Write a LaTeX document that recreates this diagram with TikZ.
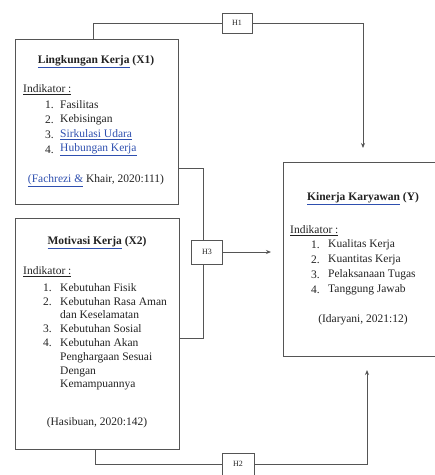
\documentclass[tikz,border=0pt]{standalone}
\usepackage{fontspec}
\setmainfont{Liberation Serif}
\usetikzlibrary{arrows.meta}
\definecolor{ln}{HTML}{555555}
\definecolor{lk}{HTML}{2E4FAF}
\definecolor{tx}{HTML}{222222}
\newcommand\tul[1]{\textcolor{lk}{\underline{\textcolor{tx}{#1}}}}
\newcommand\bul[1]{\textcolor{lk}{\underline{#1}}}
\newcommand\kul[1]{\textcolor{tx}{\underline{#1}}}
\begin{document}
\begin{tikzpicture}[x=1pt,y=-1pt,
  font=\fontsize{11.5}{14}\selectfont, text=tx,
  box/.style={draw=ln, line width=1pt, anchor=north west, inner sep=0pt},
  hbox/.style={draw=ln, fill=white, line width=0.8pt, minimum width=30pt, minimum height=20pt, inner sep=0pt, font=\fontsize{8}{9}\selectfont},
  conn/.style={draw=ln, line width=0.9pt},
  arr/.style={conn, -{Stealth[length=5pt,width=4pt]}},
  txt/.style={anchor=west, inner sep=0pt},
  ctr/.style={anchor=center, inner sep=0pt},
  ttl/.style={anchor=center, inner sep=0pt, font=\fontsize{11.5}{14}\selectfont\bfseries}]
\useasboundingbox (0,0) rectangle (435,475);

% boxes
\node[box, minimum width=163pt, minimum height=165pt] (x1) at (15,39) {};
\node[box, minimum width=164pt, minimum height=231pt] (x2) at (15,218) {};
\node[box, minimum width=153pt, minimum height=194pt] (y) at (283,162) {};

% arrow end points
\coordinate (ytop) at (363,148);
\coordinate (yin) at (271,252);
\coordinate (ybot) at (367,370);

% connectors
\draw[conn] (93,0 |- x1.north) |- (237,23);
\draw[arr] (237,23) -| (ytop);
\draw[conn] (x1.east |- 0,168) -| (203,338) -- (x2.east |- 0,338);
\draw[conn] (95,0 |- x2.south) |- (238,464);
\draw[arr] (238,464) -| (ybot);

% hypothesis boxes
\node[hbox] (h1) at (237,23) {H1};
\node[hbox, minimum width=31pt, minimum height=24pt] (h3) at (207,252) {H3};
\node[hbox, minimum width=32pt, minimum height=22pt] (h2) at (238,464) {H2};
\draw[arr] (h3.east) -- (yin);

% X1 text
\node[ttl] (x1t) at (96,62) {\tul{Lingkungan Kerja} (X1)};
\node[txt] (x1i) at (23,90) {\kul{Indikator :}};
\node[txt] (x1n1) at (45,105) {1.};
\node[txt] (x1a1) at (60,105) {Fasilitas};
\node[txt] (x1n2) at (45,120) {2.};
\node[txt] (x1a2) at (60,120) {Kebisingan};
\node[txt] (x1n3) at (45,135) {3.};
\node[txt] (x1a3) at (60,135) {\bul{Sirkulasi Udara}};
\node[txt] (x1n4) at (45,150) {4.};
\node[txt] (x1a4) at (60,150) {\bul{Hubungan Kerja}};
\node[ctr] (x1c) at (96,181) {\bul{(Fachrezi \&} Khair, 2020:111)};

% X2 text
\node[ttl] (x2t) at (97,243) {\tul{Motivasi Kerja} (X2)};
\node[txt] (x2i) at (23,272) {\kul{Indikator :}};
\node[txt] (x2n1) at (43,288) {1.};
\node[txt] (x2a1) at (60,288) {Kebutuhan Fisik};
\node[txt] (x2n2) at (43,302) {2.};
\node[txt] (x2a2) at (60,302) {Kebutuhan Rasa Aman};
\node[txt] (x2a2b) at (60,315) {dan Keselamatan};
\node[txt] (x2n3) at (43,329) {3.};
\node[txt] (x2a3) at (60,329) {Kebutuhan Sosial};
\node[txt] (x2n4) at (43,343) {4.};
\node[txt] (x2a4) at (60,343) {Kebutuhan Akan};
\node[txt] (x2a4b) at (60,358) {Penghargaan Sesuai};
\node[txt] (x2a4c) at (60,372) {Dengan};
\node[txt] (x2a4d) at (60,385) {Kemampuannya};
\node[ctr] (x2c) at (97,423) {(Hasibuan, 2020:142)};

% Y text
\node[ttl] (yt) at (363,199) {\tul{Kinerja Karyawan} (Y)};
\node[txt] (yi) at (290,231) {\kul{Indikator :}};
\node[txt] (yn1) at (311,245) {1.};
\node[txt] (ya1) at (328,245) {Kualitas Kerja};
\node[txt] (yn2) at (311,260) {2.};
\node[txt] (ya2) at (328,260) {Kuantitas Kerja};
\node[txt] (yn3) at (311,275) {3.};
\node[txt] (ya3) at (328,275) {Pelaksanaan Tugas};
\node[txt] (yn4) at (311,290) {4.};
\node[txt] (ya4) at (328,290) {Tanggung Jawab};
\node[ctr] (yc) at (363,320) {(Idaryani, 2021:12)};
\end{tikzpicture}
\end{document}
